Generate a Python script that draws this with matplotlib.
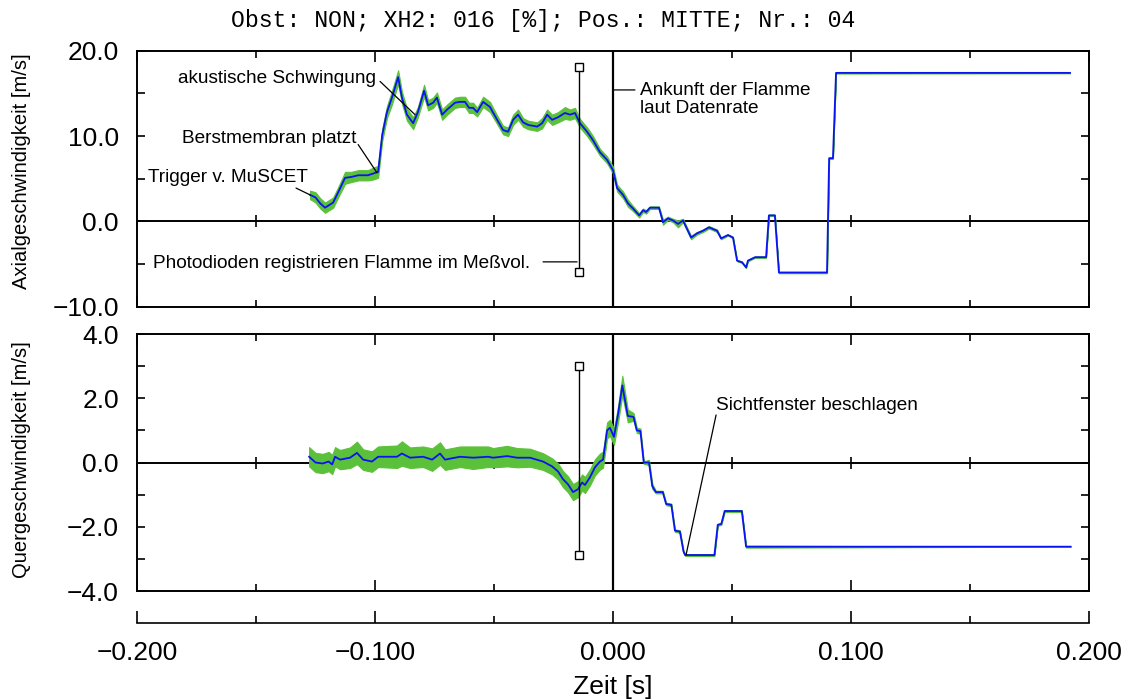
import numpy as np
import matplotlib
matplotlib.use('Agg')
import matplotlib.pyplot as plt
from matplotlib.ticker import MultipleLocator, FixedLocator

plt.rcParams['font.family'] = ['Liberation Sans', 'DejaVu Sans']

# Axialgeschwindigkeit (gemittelt) und Streubreite der Rohdaten
t_ax = [-0.1273, -0.1250, -0.1230, -0.1210, -0.1176, -0.1155, -0.1126, -0.1100, -0.1070, -0.1030,
        -0.1008, -0.0987, -0.0970, -0.0950, -0.0929, -0.0903, -0.0887, -0.0866, -0.0840, -0.0820,
        -0.0794, -0.0777, -0.0756, -0.0740, -0.0718, -0.0697, -0.0664, -0.0643, -0.0622, -0.0605,
        -0.0588, -0.0571, -0.0546, -0.0517, -0.0487, -0.0462, -0.0441, -0.0420, -0.0399, -0.0378,
        -0.0357, -0.0319, -0.0298, -0.0277, -0.0256, -0.0231, -0.0202, -0.0181, -0.0160, -0.0139,
        -0.0109, -0.0084, -0.0055, -0.0025, 0.0000, 0.0017, 0.0042, 0.0063, 0.0084, 0.0110,
        0.0126, 0.0139, 0.0155, 0.0193, 0.0210, 0.0231, 0.0252, 0.0273, 0.0294, 0.0328,
        0.0353, 0.0378, 0.0403, 0.0437, 0.0454, 0.0483, 0.0504, 0.0521, 0.0542, 0.0559,
        0.0567, 0.0597, 0.0643, 0.0655, 0.0680, 0.0697, 0.0899, 0.0908, 0.0924, 0.0937,
        0.1920]
v_ax = [3.1, 2.8, 2.1, 1.6, 2.2, 3.4, 5.1, 5.2, 5.4, 5.4,
        5.6, 5.8, 10.1, 12.8, 14.5, 16.9, 14.5, 12.5, 11.5, 12.8,
        15.3, 13.6, 13.9, 14.5, 12.5, 13.1, 13.9, 14.0, 14.0, 13.3,
        13.3, 12.8, 14.0, 13.4, 11.9, 10.7, 10.5, 11.9, 12.5, 11.6,
        11.3, 11.1, 11.5, 12.5, 11.9, 12.2, 12.7, 12.5, 12.7, 11.5,
        10.5, 9.5, 8.1, 7.2, 6.0, 3.9, 3.1, 2.1, 1.5, 0.7,
        1.3, 1.1, 1.6, 1.6, -0.1, 0.35, 0.1, -0.3, 0.1, -1.9,
        -1.4, -1.1, -0.7, -1.1, -2.0, -1.6, -1.9, -4.6, -4.8, -5.4,
        -4.6, -4.2, -4.2, 0.7, 0.7, -6.0, -6.0, 7.4, 7.4, 17.4,
        17.4]
spread_ax = [0.5, 0.6, 0.6, 0.6, 0.6, 0.6, 0.7, 0.6, 0.6, 0.6,
             0.7, 0.7, 0.7, 0.7, 0.8, 0.8, 0.7, 0.7, 0.7, 0.6,
             0.7, 0.6, 0.6, 0.6, 0.6, 0.6, 0.6, 0.6, 0.6, 0.6,
             0.6, 0.5, 0.6, 0.6, 0.5, 0.5, 0.5, 0.6, 0.6, 0.5,
             0.5, 0.5, 0.6, 0.6, 0.6, 0.6, 0.7, 0.6, 0.6, 0.5,
             0.5, 0.5, 0.4, 0.4, 0.4, 0.4, 0.4, 0.4, 0.3, 0.25,
             0.2, 0.2, 0.15, 0.15, 0.3, 0.2, 0.2, 0.4, 0.2, 0.2,
             0.15, 0.15, 0.15, 0.15, 0.1, 0.08, 0.08, 0.08, 0.08, 0.08,
             0.08, 0.08, 0.08, 0.08, 0.08, 0.08, 0.08, 0.08, 0.08, 0.08,
             0.05]

# Quergeschwindigkeit
t_qu = [-0.1277, -0.1250, -0.1220, -0.1195, -0.1180, -0.1168, -0.1147, -0.1105, -0.1076, -0.1050,
        -0.1013, -0.0987, -0.0908, -0.0887, -0.0853, -0.0798, -0.0760, -0.0727, -0.0706, -0.0643,
        -0.0588, -0.0525, -0.0504, -0.0445, -0.0403, -0.0349, -0.0294, -0.0256, -0.0231, -0.0210,
        -0.0189, -0.0168, -0.0147, -0.0130, -0.0118, -0.0097, -0.0076, -0.0055, -0.0042, -0.0025,
        -0.0013, 0.0004, 0.0021, 0.0039, 0.0062, 0.0086, 0.0100, 0.0115, 0.0129, 0.0151,
        0.0165, 0.0180, 0.0209, 0.0223, 0.0245, 0.0260, 0.0281, 0.0296, 0.0303, 0.0426,
        0.0440, 0.0455, 0.0469, 0.0541, 0.0559, 0.1923]
v_qu = [0.18, 0.00, -0.03, 0.03, -0.06, 0.18, 0.09, 0.15, 0.30, 0.09,
        0.03, 0.18, 0.18, 0.28, 0.15, 0.18, 0.09, 0.28, 0.09, 0.18,
        0.15, 0.18, 0.15, 0.20, 0.15, 0.15, 0.03, -0.12, -0.28, -0.52,
        -0.68, -0.92, -0.83, -0.62, -0.70, -0.46, -0.15, 0.03, 0.09, 1.00,
        1.08, 0.80, 1.50, 2.40, 1.45, 1.42, 1.00, 0.98, 0.00, 0.00,
        -0.74, -0.92, -0.92, -1.29, -1.32, -2.12, -2.15, -2.77, -2.88, -2.88,
        -1.94, -1.91, -1.51, -1.51, -2.62, -2.62]
spread_qu = [0.3, 0.3, 0.3, 0.3, 0.3, 0.3, 0.3, 0.32, 0.35, 0.32,
             0.32, 0.32, 0.35, 0.38, 0.32, 0.32, 0.35, 0.35, 0.32, 0.32,
             0.35, 0.32, 0.3, 0.32, 0.3, 0.28, 0.26, 0.25, 0.25, 0.25,
             0.25, 0.25, 0.25, 0.25, 0.25, 0.25, 0.25, 0.25, 0.25, 0.25,
             0.25, 0.25, 0.25, 0.3, 0.2, 0.12, 0.08, 0.08, 0.04, 0.08,
             0.08, 0.04, 0.04, 0.04, 0.04, 0.04, 0.04, 0.04, 0.03, 0.03,
             0.03, 0.03, 0.03, 0.03, 0.03, 0.0]

x_ticks = [-0.2, -0.1, 0.0, 0.1, 0.2]
x_tick_labels = ['\u22120.200', '\u22120.100', '0.000', '0.100', '0.200']
ax_yticks = [-10, 0, 10, 20]
ax_ylabels = ['\u221210.0', '0.0', '10.0', '20.0']
qu_yticks = [-4, -2, 0, 2, 4]
qu_ylabels = ['\u22124.0', '\u22122.0', '0.0', '2.0', '4.0']

green = '#5cc13a'
blue = '#0a14f0'

fig = plt.figure(figsize=(11.27, 7), dpi=100)
ax1 = fig.add_axes([0.1216, 0.5619, 0.8447, 0.3657])
ax2 = fig.add_axes([0.1216, 0.1557, 0.8447, 0.3671])
ax3 = fig.add_axes([0.1216, 0.11, 0.8447, 0.001])


def frame(ax, yticks, ylabels, yminor, ylim):
    ax.set_xlim(-0.2, 0.2)
    ax.set_ylim(*ylim)
    ax.xaxis.set_major_locator(MultipleLocator(0.1))
    ax.xaxis.set_minor_locator(MultipleLocator(0.05))
    ax.yaxis.set_major_locator(FixedLocator(yticks))
    ax.yaxis.set_minor_locator(MultipleLocator(yminor))
    ax.set_yticklabels(ylabels)
    ax.tick_params(axis='x', which='both', direction='in', top=True, bottom=True,
                   labelbottom=False, width=1.2)
    ax.tick_params(axis='x', which='major', length=8)
    ax.tick_params(axis='x', which='minor', length=5)
    ax.tick_params(axis='y', which='both', direction='in', left=True, right=True,
                   length=6, width=1.2, labelsize=19, pad=13)
    for s in ax.spines.values():
        s.set_linewidth(1.4)
    # Nulllinien
    ax.axhline(0, color='black', lw=1.4, zorder=1)
    ax.axvline(0, color='black', lw=1.6, zorder=1)
    ax.plot([-0.15, -0.1, -0.05, 0.05, 0.1, 0.15], [0] * 6, ls='none', marker='|',
            ms=9, mew=1.2, color='black', zorder=1)


frame(ax1, ax_yticks, ax_ylabels, 5, (-10, 20))
frame(ax2, qu_yticks, qu_ylabels, 1, (-4, 4))

t1 = np.array(t_ax)
v1 = np.array(v_ax)
s1 = np.array(spread_ax)
ax1.fill_between(t1, v1 - s1, v1 + s1, color=green, lw=0.8, zorder=2)
ax1.plot(t1, v1, color=blue, lw=1.3, zorder=3)

t2 = np.array(t_qu)
v2 = np.array(v_qu)
s2 = np.array(spread_qu)
ax2.fill_between(t2, v2 - s2, v2 + s2, color=green, lw=0.8, zorder=2)
ax2.plot(t2, v2, color=blue, lw=1.3, zorder=3)

# Photodioden-Markierung
ax1.plot([-0.0141, -0.0141], [18.1, -5.96], color='black', lw=1.0, marker='s', ms=6,
         mfc='white', mec='black', mew=1.0, zorder=4)
ax2.plot([-0.0141, -0.0141], [3.0, -2.87], color='black', lw=1.0, marker='s', ms=6,
         mfc='white', mec='black', mew=1.0, zorder=4)

# Beschriftungen
fs = 13.7
line = dict(arrowstyle='-', lw=0.9, color='black', shrinkA=0, shrinkB=0)
ax1.text(-0.1828, 16.7, 'akustische Schwingung', fontsize=fs, va='center')
ax1.annotate('', xy=(-0.0832, 12.5), xytext=(-0.0979, 16.4), arrowprops=line)
ax1.text(-0.1811, 9.7, 'Berstmembran platzt', fontsize=fs, va='center')
ax1.annotate('', xy=(-0.0992, 5.7), xytext=(-0.1071, 9.0), arrowprops=line)
ax1.text(-0.1954, 5.1, 'Trigger v. MuSCET', fontsize=fs, va='center')
ax1.annotate('', xy=(-0.1273, 3.1), xytext=(-0.1332, 3.9), arrowprops=line)
ax1.text(-0.1933, -4.9, 'Photodioden registrieren Flamme im Me\u00dfvol.', fontsize=fs, va='center')
ax1.annotate('', xy=(-0.0151, -4.75), xytext=(-0.0294, -4.75), arrowprops=line)
ax1.text(0.0113, 16.3, 'Ankunft der Flamme\nlaut Datenrate', fontsize=fs, va='top',
         linespacing=1.05)
ax1.annotate('', xy=(0.0092, 15.4), xytext=(0.0, 15.4), arrowprops=line)
ax2.text(0.0433, 1.76, 'Sichtfenster beschlagen', fontsize=fs, va='center')
ax2.annotate('', xy=(0.0307, -2.87), xytext=(0.0433, 1.48), arrowprops=line)

# separate Zeitachse
ax3.set_xlim(-0.2, 0.2)
ax3.set_yticks([])
for k in ['top', 'left', 'right']:
    ax3.spines[k].set_visible(False)
ax3.spines['bottom'].set_linewidth(1.2)
ax3.xaxis.set_major_locator(FixedLocator(x_ticks))
ax3.xaxis.set_minor_locator(MultipleLocator(0.05))
ax3.set_xticklabels(x_tick_labels)
ax3.tick_params(axis='x', which='both', direction='in', width=1.2, labelsize=19, pad=13)
ax3.tick_params(axis='x', which='major', length=9)
ax3.tick_params(axis='x', which='minor', length=5)
ax3.patch.set_visible(False)

fig.text(0.5441, 0.019, 'Zeit [s]', fontsize=19, ha='center', va='center')
fig.text(0.0195, 0.756, 'Axialgeschwindigkeit [m/s]', fontsize=14.5, rotation=90,
         ha='center', va='center')
fig.text(0.0195, 0.343, 'Quergeschwindigkeit [m/s]', fontsize=14.5, rotation=90,
         ha='center', va='center')
fig.text(0.4818, 0.971, 'Obst: NON; XH2: 016 [%]; Pos.: MITTE; Nr.: 04',
         family='Liberation Mono', fontsize=16.7, ha='center', va='center')

fig.savefig('out.png', dpi=100)
